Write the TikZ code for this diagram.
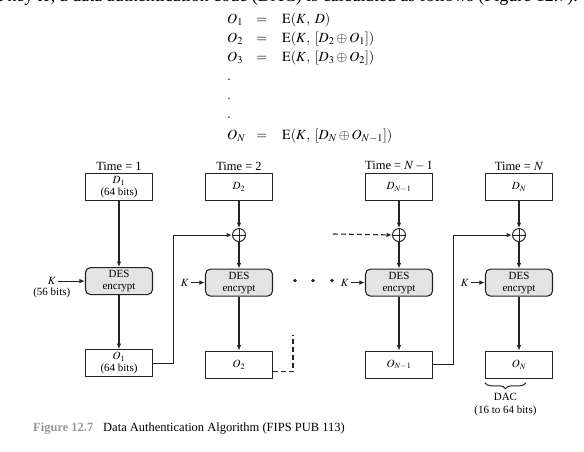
\documentclass[tikz,border=0pt]{standalone}
\usepackage{mathptmx}
\usepackage[no-math]{fontspec}
\setmainfont{Liberation Serif}
\usetikzlibrary{arrows.meta,positioning,decorations.pathreplacing}
\definecolor{desfill}{RGB}{228,228,228}
\definecolor{dacline}{RGB}{35,35,35}
\definecolor{capgray}{RGB}{150,150,150}
\tikzset{
  >={Latex[length=5.5pt,width=4.5pt]},
  every node/.style={font=\fontsize{11}{12}\selectfont},
  databox/.style={
    rectangle, draw=dacline, line width=1.1pt,
    fill=white, align=center, inner sep=2pt,
    minimum width=67pt, minimum height=27pt
  },
  desbox/.style={databox, rounded corners=5pt, fill=desfill},
  xorcirc/.style={circle, draw=dacline, line width=1pt, minimum size=13pt, inner sep=0pt},
  timelabel/.style={font=\fontsize{12.5}{14}\selectfont, inner sep=1pt},
  klabel/.style={inner sep=2pt},
  arrow/.style={->, line width=1.1pt, draw=dacline},
  dashline/.style={dash pattern=on 5pt off 3pt},
  dacbrace/.style={decorate, decoration={brace, mirror, amplitude=6pt}, line width=1pt, draw=dacline},
}

\begin{document}
\begin{tikzpicture}[x=1pt,y=-1pt]
\clip (0,0) rectangle (584,451);
% --- Text above the figure ---
\node[anchor=base east, inner sep=0pt, font=\fontsize{18}{21}\selectfont] (intro) at (578,1.5)
  {secret key $K$, a data authentication code (DAC) is calculated as follows (Figure 12.7).};
\node[anchor=north west, inner sep=0pt, font=\fontsize{14}{19}\selectfont] (eqs) at (227,10) {$
  \begin{array}{@{}l@{\hspace{11pt}}c@{\hspace{15pt}}l@{}}
    O_1 & = & \mathrm{E}(K,\; D)\\
    O_2 & = & \mathrm{E}(K,\; [D_2 \oplus O_1])\\
    O_3 & = & \mathrm{E}(K,\; [D_3 \oplus O_2])\\
    . & & \\
    . & & \\
    . & & \\[2pt]
    O_N & = & \mathrm{E}(K,\; [D_N \oplus O_{N-1}])
  \end{array}$};
% --- Data blocks ---
\node[databox] (d1) at (119,187) {$D_1$\\(64 bits)};
\node[databox] (d2) at (239,187) {$D_2$};
\node[databox] (d3) at (399,187) {$D_{N-1}$};
\node[databox] (d4) at (519,187) {$D_N$};
\node[timelabel, above=1pt of d1] (t1) {Time = 1};
\node[timelabel, above=1pt of d2] (t2) {Time = 2};
\node[timelabel, above=1pt of d3] (t3) {Time = $N-1$};
\node[timelabel, above=1pt of d4] (t4) {Time = $N$};
% --- XOR and DES ---
\node[xorcirc, below=27pt of d2] (x2) {};
\node[xorcirc, below=27pt of d3] (x3) {};
\node[xorcirc, below=27pt of d4] (x4) {};
\node[desbox, below=66pt of d1] (des1) {DES\\encrypt};
\node[desbox, below=26.5pt of x2] (des2) {DES\\encrypt};
\node[desbox, below=26.5pt of x3] (des3) {DES\\encrypt};
\node[desbox, below=26.5pt of x4] (des4) {DES\\encrypt};
\foreach \n in {2,3,4} {
  \draw[dacline, line width=0.9pt] (x\n.north) -- (x\n.south) (x\n.west) -- (x\n.east);
}
% --- Keys ---
\node[klabel, left=27pt of des1] (k1) {$K$};
\node[below=-3pt of k1] (k1bits) {(56 bits)};
\node[klabel, left=14pt of des2] (k2) {$K$};
\node[klabel, left=14pt of des3] (k3) {$K$};
\node[klabel, left=14pt of des4] (k4) {$K$};
\foreach \dx in {295,313,332} {
  \fill[dacline] (\dx,280.5) circle (1.8pt);
}
% --- Outputs ---
\node[databox, below=54pt of des1] (o1) {$O_1$\\(64 bits)};
\node[databox, below=54pt of des2] (o2) {$O_2$};
\node[databox, below=54pt of des3] (o3) {$O_{N-1}$};
\node[databox, below=54pt of des4] (o4) {$O_N$};
% --- Arrows ---
\draw[arrow] (d1) -- (des1);
\draw[arrow] (d2) -- (x2);
\draw[arrow] (d3) -- (x3);
\draw[arrow] (d4) -- (x4);
\draw[arrow] (x2) -- (des2);
\draw[arrow] (x3) -- (des3);
\draw[arrow] (x4) -- (des4);
\foreach \n in {1,2,3,4} {
  \draw[arrow] (k\n) -- (des\n);
  \draw[arrow] (des\n) -- (o\n);
}
% feedback of each output into the next XOR
\draw[arrow] (o1.east) -- ++(20,0) |- (x2.west);
\draw[arrow] (o3.east) -- ++(20,0) |- (x4.west);
\coordinate (o2end) at (293,335);
\coordinate (x3start) at (333,234);
\draw[dacline, line width=1.1pt, dashline] ([yshift=-7pt]o2.east) -| (o2end);
\draw[arrow, dashline] (x3start) -- (x3);
% --- DAC ---
\draw[dacbrace] ([yshift=-4pt]o4.south west) -- node[below=7pt, align=center, font=\fontsize{11}{13}\selectfont] (dac) {DAC\\(16 to 64 bits)} ([xshift=41pt,yshift=-4pt]o4.south west);
% --- Caption ---
\node[anchor=base west, inner sep=0pt, font=\fontsize{12.5}{15}\selectfont\bfseries, text=capgray] (figno) at (33,431) {Figure 12.7};
\node[anchor=base west, inner sep=0pt, font=\fontsize{12.5}{15}\selectfont] (caption) at (103,431) {Data Authentication Algorithm (FIPS PUB 113)};
\end{tikzpicture}
\end{document}
